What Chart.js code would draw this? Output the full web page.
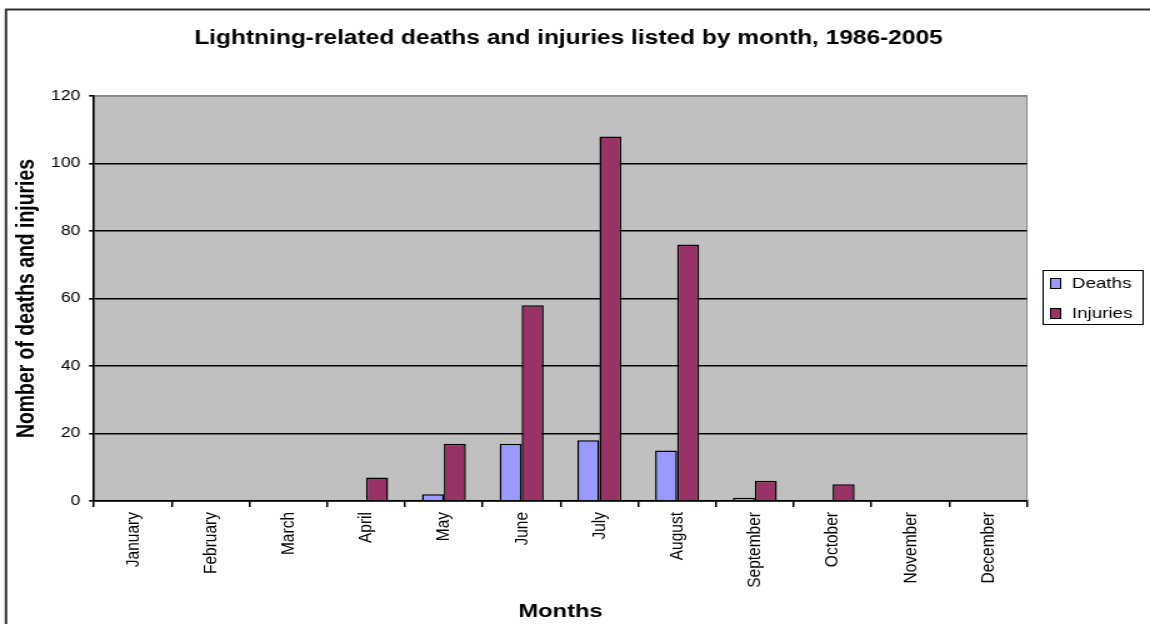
<!DOCTYPE html>
<html>
<head>
<meta charset="utf-8">
<title>Lightning-related deaths and injuries by month</title>
<script src="https://cdn.jsdelivr.net/npm/chart.js@4.4.1/dist/chart.umd.min.js"></script>
<style>
  html, body { margin: 0; padding: 0; background: #fff; overflow: hidden; }
</style>
</head>
<body>
<!-- drawn at 920 wide, shown stretched to 1150 -->
<canvas id="chart" width="920" height="624" style="width:1150px;height:624px"></canvas>
<script>
const months = ['January', 'February', 'March', 'April', 'May', 'June',
                'July', 'August', 'September', 'October', 'November', 'December'];
const deaths   = [0, 0, 0, 0, 2, 17, 18, 15, 1, 0, 0, 0];
const injuries = [0, 0, 0, 7, 17, 58, 108, 76, 6, 5, 0, 0];
const yMax = 120;
const yStep = 20;

const FONT = '"Liberation Sans", Arial, sans-serif';
Chart.defaults.font.family = FONT;
Chart.defaults.color = '#000';

// white page, outer frame, grey plot area and the boxed legend
const excelLook = {
  id: 'excelLook',
  beforeDraw(chart) {
    const { ctx, chartArea: a } = chart;
    ctx.save();
    ctx.fillStyle = '#fff';
    ctx.fillRect(0, 0, chart.width, chart.height);

    ctx.strokeStyle = '#333';
    ctx.lineWidth = 2;
    ctx.beginPath();
    ctx.moveTo(4.8, chart.height);
    ctx.lineTo(4.8, 9.5);
    ctx.lineTo(chart.width, 9.5);
    ctx.stroke();

    ctx.fillStyle = '#c0c0c0';
    ctx.fillRect(a.left, a.top, a.width, a.height);
    ctx.strokeStyle = '#808080';
    ctx.lineWidth = 1;
    ctx.strokeRect(a.left, a.top, a.width, a.height);
    ctx.restore();
  },
  afterDraw(chart) {
    const { ctx } = chart;
    ctx.save();
    ctx.fillStyle = '#fff';
    ctx.strokeStyle = '#000';
    ctx.lineWidth = 1;
    ctx.fillRect(834.5, 270.5, 80, 54);
    ctx.strokeRect(834.5, 270.5, 80, 54);
    ctx.font = '15px ' + FONT;
    ctx.textBaseline = 'middle';
    chart.data.datasets.forEach((ds, i) => {
      const cy = 283.5 + i * 30;
      ctx.fillStyle = ds.backgroundColor;
      ctx.fillRect(840.5, cy - 5, 8, 10);
      ctx.strokeRect(840.5, cy - 5, 8, 10);
      ctx.fillStyle = '#000';
      ctx.fillText(ds.label, 857.6, cy);
    });
    ctx.restore();
  }
};

new Chart(document.getElementById('chart'), {
  type: 'bar',
  data: {
    labels: months,
    datasets: [
      { label: 'Deaths', data: deaths, backgroundColor: '#9999ff', borderColor: '#000', borderWidth: 1.5 },
      { label: 'Injuries', data: injuries, backgroundColor: '#993366', borderColor: '#000', borderWidth: 1.5 }
    ]
  },
  options: {
    responsive: false,
    animation: false,
    devicePixelRatio: 1,
    layout: { padding: { left: 0, right: 10.4, top: 0, bottom: 0 } },
    datasets: { bar: { categoryPercentage: 0.566, barPercentage: 1 } },
    plugins: {
      legend: { display: false },
      tooltip: { enabled: false },
      title: {
        display: true,
        text: 'Lightning-related deaths and injuries listed by month, 1986-2005',
        font: { size: 19.6, weight: 'bold' },
        color: '#000',
        padding: { top: 27, bottom: 45.5 }
      }
    },
    scales: {
      x: {
        grid: {
          display: true,
          offset: true,
          drawOnChartArea: false,
          drawTicks: true,
          tickLength: 6,
          tickColor: '#000',
          lineWidth: 1.5
        },
        border: { display: true, color: '#000', width: 1.5 },
        ticks: {
          autoSkip: false,
          minRotation: 90,
          maxRotation: 90,
          padding: 5,
          font: { size: 15.5 },
          color: '#000'
        },
        title: {
          display: true,
          text: 'Months',
          font: { size: 19, weight: 'bold' },
          color: '#000',
          padding: { top: 0, bottom: 1 }
        },
        afterFit(scale) { scale.height = 123; }
      },
      y: {
        min: 0,
        max: yMax,
        grid: {
          color: (c) => (c.tick && c.tick.value === yMax ? '#808080' : '#000'),
          lineWidth: 1.6,
          drawTicks: true,
          tickLength: 4,
          tickColor: '#000'
        },
        border: { display: true, color: '#000', width: 1.5 },
        ticks: { stepSize: yStep, padding: 7, font: { size: 14 }, color: '#000' },
        title: {
          display: true,
          text: 'Nomber of deaths and injuries',
          font: { size: 19.4, weight: 'bold' },
          color: '#000',
          padding: { top: 10, bottom: 0 }
        },
        afterFit(scale) { scale.width = 75.2; }
      },
      // keeps room on the right for the legend box
      legendSpace: {
        type: 'linear',
        position: 'right',
        display: true,
        grid: { display: false, drawTicks: false },
        border: { display: false },
        ticks: { display: false },
        title: { display: false },
        afterFit(scale) { scale.width = 88; }
      }
    }
  },
  plugins: [excelLook]
});
</script>
</body>
</html>
